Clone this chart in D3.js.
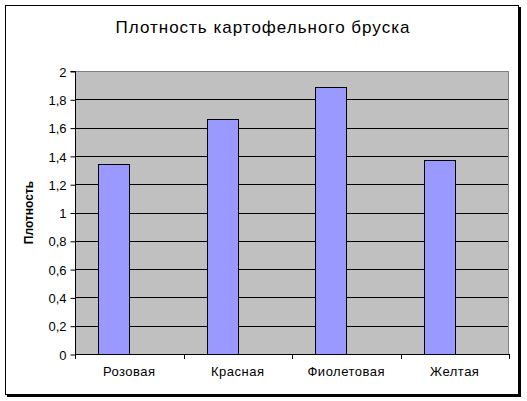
<!DOCTYPE html>
<html>
<head>
<meta charset="utf-8">
<script src="https://cdn.jsdelivr.net/npm/d3@7"></script>
<style>
  body { margin: 0; background: #fff; }
  text { font-family: "Liberation Sans", Arial, sans-serif; fill: #000; }
</style>
</head>
<body>
<svg width="527" height="401"></svg>
<script>
const categories = ['Розовая', 'Красная', 'Фиолетовая', 'Желтая'];
const values = [1.34, 1.66, 1.885, 1.37];
// Excel chart had a second, empty series slot next to each bar
const seriesKeys = ['Плотность', 'empty'];
const yTicks = [0, 0.2, 0.4, 0.6, 0.8, 1, 1.2, 1.4, 1.6, 1.8, 2];

const svg = d3.select('svg');

const plot = {left: 75, right: 509, top: 71, bottom: 354};

// chart frame with a small shadow
svg.append('rect')
    .attr('x', 7).attr('y', 7)
    .attr('width', 514).attr('height', 390)
    .attr('fill', '#000');
svg.append('rect')
    .attr('x', 5.5).attr('y', 5.5)
    .attr('width', 513).attr('height', 389)
    .attr('fill', '#fff')
    .attr('stroke', '#000');

const x0 = d3.scaleBand()
    .domain(categories)
    .range([plot.left, plot.right])
    .padding(0);

const x1 = d3.scaleBand()
    .domain(seriesKeys)
    .range([0, x0.bandwidth()])
    .paddingInner(0)
    .paddingOuter(0.75);

const y = d3.scaleLinear()
    .domain([0, 2])
    .range([plot.bottom, plot.top]);

svg.append('rect')
    .attr('x', plot.left).attr('y', plot.top)
    .attr('width', plot.right - plot.left)
    .attr('height', plot.bottom - plot.top)
    .attr('fill', '#c0c0c0');

// border of plot area (top/right in gray)
svg.append('path')
    .attr('d', `M${plot.left},${plot.top + 0.5}H${plot.right - 0.5}V${plot.bottom}`)
    .attr('fill', 'none')
    .attr('stroke', '#808080');

svg.append('g')
    .selectAll('line')
    .data(yTicks.filter(d => d > 0 && d < 2))
    .join('line')
    .attr('x1', plot.left).attr('x2', plot.right - 1)
    .attr('y1', d => Math.round(y(d)) + 0.5)
    .attr('y2', d => Math.round(y(d)) + 0.5)
    .attr('stroke', '#000');

svg.append('g')
    .selectAll('rect')
    .data(values)
    .join('rect')
    .attr('x', (d, i) => Math.round(x0(categories[i]) + x1('Плотность')) + 0.5)
    .attr('y', d => Math.round(y(d)) + 0.5)
    .attr('width', Math.round(x1.bandwidth()))
    .attr('height', d => Math.round(y(0)) - Math.round(y(d)))
    .attr('fill', '#9999ff')
    .attr('stroke', '#000');

const yAxis = d3.axisLeft(y)
    .tickValues(yTicks)
    .tickSize(5)
    .tickPadding(4)
    .tickFormat(d => String(d).replace('.', ','));

svg.append('g')
    .attr('transform', `translate(${plot.left + 0.5}, 0.5)`)
    .call(yAxis)
    .call(g => g.select('.domain').attr('d', `M-5,${plot.top}H0V${plot.bottom}`))
    .call(g => g.selectAll('text')
        .style('font-family', '"Liberation Sans", Arial, sans-serif')
        .style('font-size', '13px')
        .attr('dy', '0.36em'));

const xAxis = d3.axisBottom(x0).tickSize(0).tickPadding(12);

svg.append('g')
    .attr('transform', `translate(0, ${plot.bottom + 0.5})`)
    .call(xAxis)
    .call(g => g.select('.domain').attr('d', `M${plot.left},0H${plot.right}`))
    .call(g => g.selectAll('text')
        .style('font-family', '"Liberation Sans", Arial, sans-serif')
        .style('font-size', '13px')
        .style('letter-spacing', '0.5px'));

// category boundary ticks
svg.append('g')
    .selectAll('line')
    .data(categories.concat(['end']))
    .join('line')
    .attr('x1', (d, i) => Math.round(i < categories.length ? x0(d) : plot.right) + 0.5)
    .attr('x2', (d, i) => Math.round(i < categories.length ? x0(d) : plot.right) + 0.5)
    .attr('y1', plot.bottom)
    .attr('y2', plot.bottom + 5)
    .attr('stroke', '#000');

svg.append('text')
    .attr('x', 263)
    .attr('y', 33)
    .attr('text-anchor', 'middle')
    .style('font-size', '17px')
    .style('letter-spacing', '1px')
    .text('Плотность картофельного бруска');

svg.append('text')
    .attr('transform', `translate(33, ${(plot.top + plot.bottom) / 2}) rotate(-90)`)
    .attr('text-anchor', 'middle')
    .style('font-size', '12px')
    .style('font-weight', 'bold')
    .text('Плотность');
</script>
</body>
</html>
